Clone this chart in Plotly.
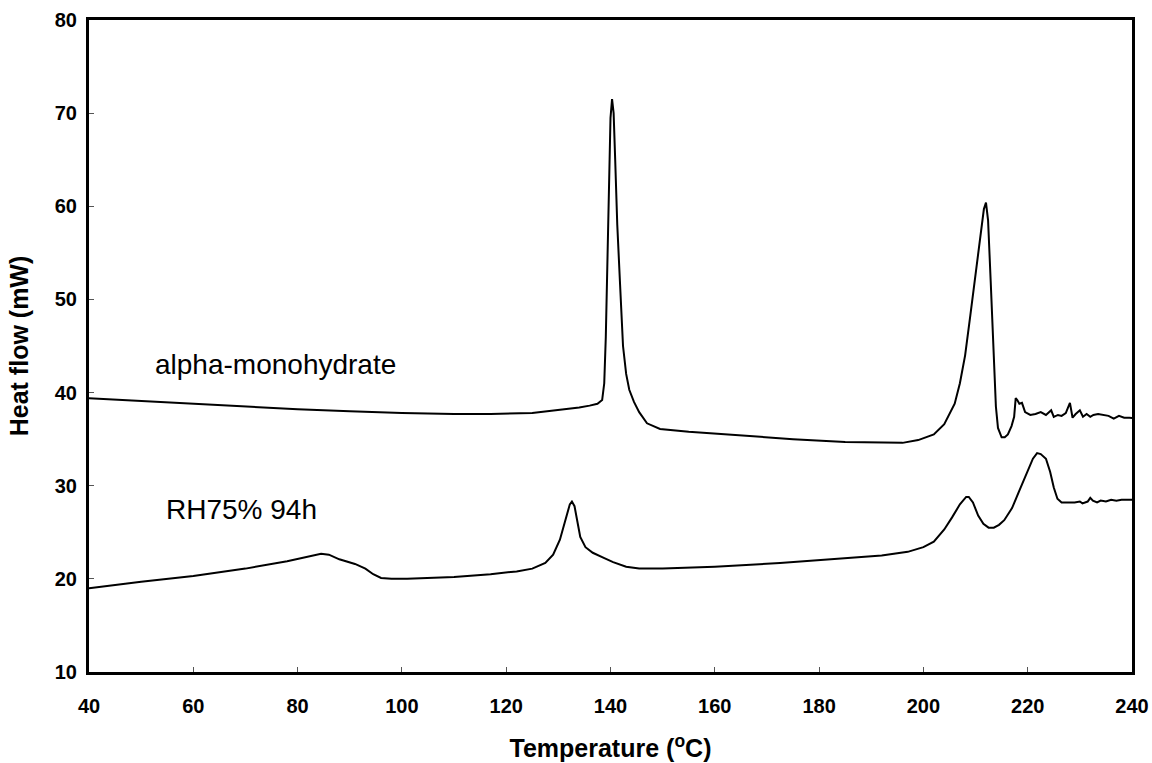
import plotly.graph_objects as go

# ---- data ----
alpha_T = [40, 50, 60, 70, 80, 90, 100, 110, 117, 125, 130, 134, 136, 137.5, 138.4,
           138.8, 139.1, 139.4, 139.7, 140.0, 140.3, 140.6, 140.9, 141.3, 141.8, 142.4,
           143.0, 143.6, 144.5, 145.5, 147, 149.5, 155, 165, 175, 185, 192, 196, 199,
           202, 204, 206, 207, 208, 209, 210, 211, 211.6, 212.0, 212.4, 212.9, 213.4,
           213.9, 214.3, 215.0, 215.6, 216.2, 216.9, 217.4, 217.7, 218.0, 218.4, 218.9,
           219.5, 220.5, 221.5, 222.5, 223.5, 224.5, 225.0, 225.8, 226.5, 227.3, 228.1,
           228.6, 229.2, 230.0, 230.6, 231.3, 232.0, 232.6, 233.5, 234.5, 235.5, 236.5,
           237.5, 238.5, 239.5, 241]
alpha_H = [39.4, 39.1, 38.8, 38.5, 38.2, 38.0, 37.8, 37.7, 37.7, 37.8, 38.1, 38.4, 38.6, 38.8, 39.2,
           41.0, 46.0, 54.0, 63.0, 69.5, 71.5, 70.0, 65.0, 58.0, 52.0, 45.0,
           42.0, 40.3, 39.0, 37.9, 36.7, 36.1, 35.8, 35.4, 35.0, 34.7, 34.6, 34.6, 34.9,
           35.5, 36.6, 38.8, 41.0, 44.0, 48.3, 52.5, 57.0, 59.7, 60.4, 58.5, 52.0, 45.0,
           38.5, 36.2, 35.2, 35.2, 35.5, 36.4, 37.4, 39.4, 39.2, 38.8, 38.9,
           37.9, 37.6, 37.7, 37.9, 37.6, 38.1, 37.4, 37.6, 37.5, 37.8, 38.9,
           37.3, 37.7, 38.1, 37.4, 37.7, 37.4, 37.6, 37.7, 37.6, 37.5, 37.2,
           37.5, 37.3, 37.3, 37.2]

rh_T = [40, 50, 60, 70, 78, 82, 84.5, 86, 88, 91, 93, 94.5, 96, 98, 101, 110, 117, 122,
        125, 127.5, 129, 130.3, 131.3, 132.2, 132.6, 133.1, 133.7, 134.2, 135.2, 136.6,
        138.5, 140.5, 143, 145.5, 150, 160, 172.5, 185, 192, 197, 200, 202, 204, 205.5,
        207, 208.2, 208.7, 209.5, 210.5, 211.5, 212.5, 213.5, 214.5, 215.5, 217, 218.5,
        220, 221, 221.8, 222.5, 223.5, 224.3, 225, 225.7, 226.5, 228, 229, 230, 230.5,
        231.5, 232, 232.5, 233.3, 234, 235, 236, 237, 238, 239.5, 241]
rh_H = [19.0, 19.7, 20.3, 21.1, 21.9, 22.4, 22.7, 22.6, 22.1, 21.6, 21.1, 20.5, 20.1, 20.0, 20.0, 20.2, 20.5, 20.8,
        21.1, 21.7, 22.6, 24.2, 26.2, 28.0, 28.3, 27.8, 26.0, 24.5, 23.4, 22.8,
        22.3, 21.8, 21.3, 21.1, 21.1, 21.3, 21.7, 22.2, 22.5, 22.9, 23.4, 24.0, 25.3, 26.6,
        28.0, 28.8, 28.8, 28.2, 26.8, 25.9, 25.5, 25.5, 25.8, 26.3, 27.6, 29.6,
        31.7, 32.9, 33.5, 33.4, 32.9, 31.5, 29.8, 28.6, 28.2, 28.2, 28.2, 28.3, 28.1,
        28.3, 28.7, 28.4, 28.2, 28.4, 28.3, 28.5, 28.4, 28.5, 28.5, 28.5]

x_ticks = [40, 60, 80, 100, 120, 140, 160, 180, 200, 220, 240]
y_ticks = [10, 20, 30, 40, 50, 60, 70, 80]

labels = ["alpha-monohydrate", "RH75% 94h"]
label_T = [52.2, 54.3]
label_H = [43.0, 27.4]

FONT = "Liberation Sans, Arial, sans-serif"

fig = go.Figure()
fig.add_trace(go.Scatter(x=alpha_T, y=alpha_H, mode="lines", name=labels[0],
                         line=dict(color="black", width=2)))
fig.add_trace(go.Scatter(x=rh_T, y=rh_H, mode="lines", name=labels[1],
                         line=dict(color="black", width=2)))

for txt, tx, ty in zip(labels, label_T, label_H):
    fig.add_annotation(x=tx, y=ty, text=txt, showarrow=False, xanchor="left",
                       yanchor="middle", font=dict(family=FONT, size=28, color="black"))

fig.update_layout(
    width=1152, height=763,
    margin=dict(l=89, r=20, t=20, b=91),
    paper_bgcolor="white", plot_bgcolor="white",
    showlegend=False,
    font=dict(family=FONT, color="black"),
)
fig.update_xaxes(
    range=[40, 240], tickvals=x_ticks, ticktext=[str(v) for v in x_ticks],
    automargin=False,
    showgrid=False, zeroline=False,
    showline=True, linecolor="black", linewidth=3, mirror=True,
    ticks="inside", ticklen=5, tickwidth=1, tickcolor="#555",
    tickfont=dict(family=FONT, size=20, weight="bold", color="black"),
    ticklabelstandoff=14,
    title=dict(text="Temperature (<sup>o</sup>C)", standoff=24,
               font=dict(family=FONT, size=25, weight="bold", color="black")),
)
fig.update_yaxes(
    range=[10, 80], tickvals=y_ticks, ticktext=[str(v) for v in y_ticks],
    automargin=False,
    showgrid=False, zeroline=False,
    showline=True, linecolor="black", linewidth=3, mirror=True,
    ticks="inside", ticklen=5, tickwidth=1, tickcolor="#555",
    tickfont=dict(family=FONT, size=20, weight="bold", color="black"),
    ticklabelstandoff=5,
    title=dict(text="Heat flow (mW)", standoff=20,
               font=dict(family=FONT, size=25, weight="bold", color="black")),
)

fig.write_html("out.html", config={"displayModeBar": False},
               post_script="document.body.style.margin='0';")
